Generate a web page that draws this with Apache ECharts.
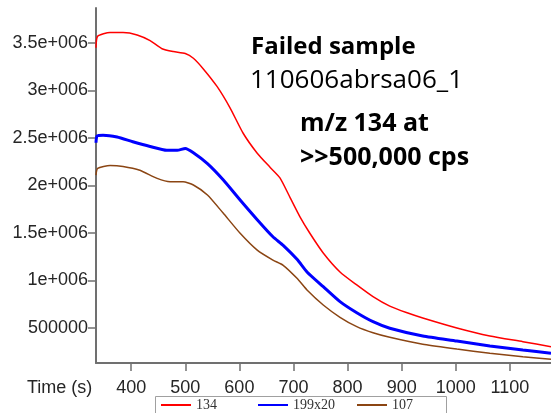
<!DOCTYPE html>
<html>
<head>
<meta charset="utf-8">
<script src="https://cdn.jsdelivr.net/npm/echarts@6/dist/echarts.min.js"></script>
<style>
  html, body { margin: 0; padding: 0; background: #fff; }
  #chart { width: 551px; height: 413px; }
</style>
</head>
<body>
<div id="chart"></div>
<script>
// ion counts vs time
const redTime = [335, 338, 361, 385, 411, 435, 457, 478, 500, 515, 533, 559, 583, 607, 633, 657, 675, 694, 712, 730, 755, 786, 817, 847, 878, 910, 939, 1002, 1063, 1124, 1176];
const redCounts = [3450000, 3570000, 3610000, 3610000, 3585000, 3525000, 3440000, 3410000, 3390000, 3340000, 3230000, 3040000, 2815000, 2550000, 2340000, 2190000, 2080000, 1870000, 1670000, 1500000, 1290000, 1090000, 953000, 830000, 730000, 660000, 605000, 500000, 416000, 356000, 303000];

const blueTime = [335, 337, 348, 374, 403, 435, 466, 485, 500, 515, 541, 570, 601, 633, 662, 681, 707, 725, 755, 786, 817, 847, 878, 939, 1002, 1063, 1124, 1176];
const blueCounts = [2450000, 2520000, 2530000, 2510000, 2460000, 2410000, 2370000, 2370000, 2390000, 2345000, 2230000, 2060000, 1850000, 1640000, 1460000, 1370000, 1220000, 1090000, 935000, 777000, 660000, 566000, 497000, 416000, 363000, 310000, 268000, 234000];

const brownTime = [335, 338, 361, 385, 416, 448, 472, 496, 515, 541, 570, 601, 633, 662, 681, 707, 725, 755, 786, 817, 847, 878, 939, 1002, 1063, 1124, 1176];
const brownCounts = [2110000, 2180000, 2210000, 2200000, 2160000, 2075000, 2040000, 2040000, 2005000, 1900000, 1710000, 1500000, 1320000, 1215000, 1160000, 1020000, 900000, 742000, 613000, 514000, 450000, 402000, 328000, 279000, 234000, 198000, 170000];

const seriesNames = ['134', '199x20', '107'];
const seriesColors = ['#ff0000', '#0000ff', '#8b4513'];

const xTickValues = [400, 500, 600, 700, 800, 900, 1000, 1100];
const yTickValues = [500000, 1000000, 1500000, 2000000, 2500000, 3000000, 3500000];
const yTickLabels = ['500000', '1e+006', '1.5e+006', '2e+006', '2.5e+006', '3e+006', '3.5e+006'];

const zip = (xs, ys) => xs.map((x, i) => [x, ys[i]]);

const axisColor = '#707070';
const labelColor = '#262626';

// legend cells sit in fixed columns inside one box
const legendLefts = [161, 258, 357];
const legends = seriesNames.map((name, i) => ({
  left: legendLefts[i],
  top: 398,
  padding: 0,
  itemWidth: 30,
  itemHeight: 2,
  icon: 'rect',
  textStyle: { fontFamily: 'Liberation Serif', fontSize: 14, color: '#333' },
  data: [name]
}));

const makeLine = (name, color, width, data) => ({
  name: name,
  type: 'line',
  data: data,
  showSymbol: false,
  symbol: 'none',
  smooth: 0.2,
  lineStyle: { color: color, width: width },
  itemStyle: { color: color }
});

const chart = echarts.init(document.getElementById('chart'));

const option = {
  animation: false,
  backgroundColor: '#fff',
  grid: { left: 96, right: 0, top: 8, bottom: 50 },
  xAxis: {
    type: 'value',
    min: 335,
    max: 1176,
    splitLine: { show: false },
    axisLine: { show: true, lineStyle: { color: axisColor, width: 2 } },
    axisTick: { show: true, length: 8, customValues: xTickValues, lineStyle: { color: axisColor, width: 1.5 } },
    axisLabel: {
      customValues: xTickValues,
      margin: 16,
      color: labelColor,
      fontFamily: 'Liberation Sans',
      fontSize: 18,
      formatter: (v) => String(v)
    }
  },
  yAxis: {
    type: 'value',
    min: 131579,
    max: 3868421,
    splitLine: { show: false },
    axisLine: { show: true, lineStyle: { color: axisColor, width: 2 } },
    axisTick: { show: true, length: 8, customValues: yTickValues, lineStyle: { color: axisColor, width: 1.5 } },
    axisLabel: {
      customValues: yTickValues,
      margin: 8,
      color: labelColor,
      fontFamily: 'Liberation Sans',
      fontSize: 18,
      formatter: (v) => yTickLabels[yTickValues.indexOf(v)]
    }
  },
  legend: legends,
  graphic: [
    // legend frame
    { type: 'rect', shape: { x: 155.5, y: 396.5, width: 291, height: 22 }, style: { fill: 'none', stroke: '#a0a0a0', lineWidth: 1 }, z: 1 },
    // x axis title sits on the tick label row
    { type: 'text', left: 27, top: 379, style: { text: 'Time (s)', font: '18px "Liberation Sans"', fill: labelColor } },
    { type: 'text', x: 251, y: 47, style: { text: 'Failed sample', font: 'bold 24px "Open Sans"', fill: '#000', verticalAlign: 'middle' } },
    { type: 'text', x: 250, y: 81, style: { text: '110606abrsa06_1', font: '26px "Open Sans"', fill: '#000', verticalAlign: 'middle' } },
    { type: 'text', x: 300, y: 124, style: { text: 'm/z 134 at', font: 'bold 25px "Open Sans"', fill: '#000', verticalAlign: 'middle' } },
    { type: 'text', x: 300, y: 158, style: { text: '>>500,000 cps', font: 'bold 25px "Open Sans"', fill: '#000', verticalAlign: 'middle' } }
  ],
  series: [
    makeLine(seriesNames[0], seriesColors[0], 1.5, zip(redTime, redCounts)),
    makeLine(seriesNames[1], seriesColors[1], 3, zip(blueTime, blueCounts)),
    makeLine(seriesNames[2], seriesColors[2], 1.5, zip(brownTime, brownCounts))
  ]
};

chart.setOption(option);
</script>
</body>
</html>
